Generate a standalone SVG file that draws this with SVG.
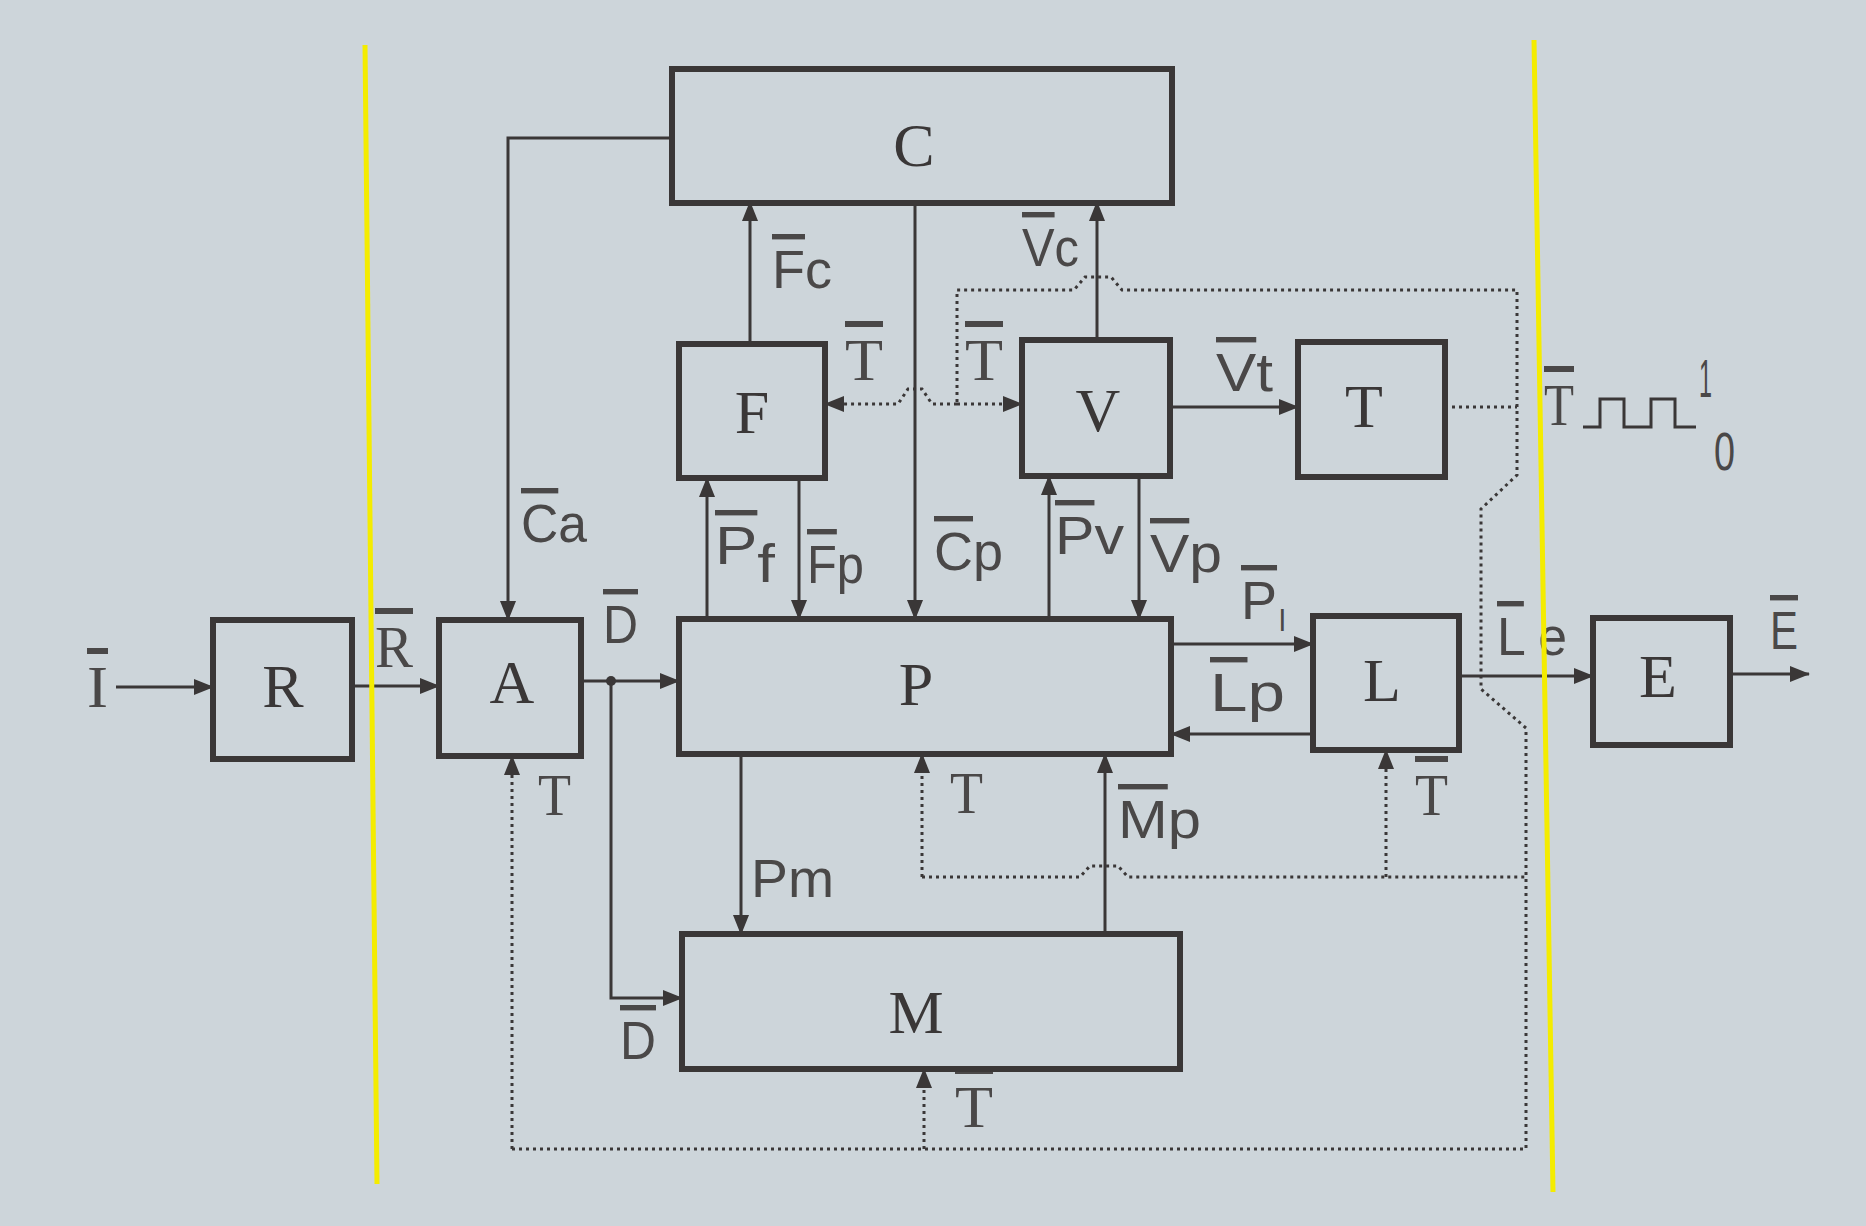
<svg xmlns="http://www.w3.org/2000/svg" width="1866" height="1226" viewBox="0 0 1866 1226">
<defs>
<marker id="ah" markerUnits="userSpaceOnUse" markerWidth="20" markerHeight="16" refX="19" refY="8" orient="auto">
<path d="M0,0 L20,8 L0,16 z" fill="#3a3737"/>
</marker>
<style>
.box{fill:none;stroke:#3a3737;stroke-width:6}
.bl{font-family:"Liberation Serif",serif;font-size:62px;fill:#3a3737;text-anchor:middle}
.ln{fill:none;stroke:#3a3737;stroke-width:3}
.dt{fill:none;stroke:#3a3737;stroke-width:3;stroke-dasharray:3 4}
.lb{font-family:"Liberation Sans",sans-serif;font-size:54px;fill:#4a4848}
.tl{font-family:"Liberation Serif",serif;font-size:60px;fill:#4a4848}
.ov{text-decoration:overline;text-decoration-thickness:3px}
.yl{stroke:#f4ec00;stroke-width:5;fill:none}
</style>
</defs>
<rect width="1866" height="1226" fill="#cdd5da"/>

<g id="connectors">
<path class="ln" d="M116,687 H213" marker-end="url(#ah)"/>
<path class="ln" d="M352,686 H439" marker-end="url(#ah)"/>
<path class="ln" d="M581,681 H679" marker-end="url(#ah)"/>
<circle cx="611" cy="681" r="5" fill="#3a3737"/>
<path class="ln" d="M611,681 V998 H682" marker-end="url(#ah)"/>
<path class="ln" d="M672,138 H508 V620" marker-end="url(#ah)"/>
<path class="ln" d="M750,344 V202" marker-end="url(#ah)"/>
<path class="ln" d="M1097,340 V202" marker-end="url(#ah)"/>
<path class="ln" d="M915,202 V619" marker-end="url(#ah)"/>
<path class="ln" d="M707,619 V478" marker-end="url(#ah)"/>
<path class="ln" d="M799,478 V619" marker-end="url(#ah)"/>
<path class="ln" d="M1049,619 V476" marker-end="url(#ah)"/>
<path class="ln" d="M1139,476 V619" marker-end="url(#ah)"/>
<path class="ln" d="M1170,407 H1298" marker-end="url(#ah)"/>
<path class="ln" d="M1171,644 H1313" marker-end="url(#ah)"/>
<path class="ln" d="M1313,734 H1171" marker-end="url(#ah)"/>
<path class="ln" d="M1459,676 H1593" marker-end="url(#ah)"/>
<path class="ln" d="M1730,674 H1809" marker-end="url(#ah)"/>
<path class="ln" d="M741,754 V934" marker-end="url(#ah)"/>
<path class="ln" d="M1105,934 V754" marker-end="url(#ah)"/>

<path class="dt" d="M512,1149 V756" marker-end="url(#ah)"/>
<path class="dt" d="M512,1149 H1526 V728 L1481,689 V509 L1517,475 V290 H1122 L1111,277 H1085 L1074,290 H957 V404"/>
<path class="dt" d="M1445,407 H1517"/>
<path class="dt" d="M922,877 H1080 L1090,866 H1118 L1128,877 H1526"/>
<path class="dt" d="M922,877 V754" marker-end="url(#ah)"/>
<path class="dt" d="M1386,877 V750" marker-end="url(#ah)"/>
<path class="dt" d="M924,1149 V1069" marker-end="url(#ah)"/>
<path class="dt" d="M957,404 H932 L922,389 H908 L898,404 H825" marker-end="url(#ah)"/>
<path class="dt" d="M957,404 H1022" marker-end="url(#ah)"/>
<path class="ln" d="M1583,427 H1600 V399 H1624 V427 H1651 V399 H1675 V427 H1696" stroke-width="2.5"/>
</g>

<g id="labels">
<text class="tl" x="87" y="707" textLength="21" lengthAdjust="spacingAndGlyphs"><tspan class="ov">I</tspan></text>
<text class="tl" x="375" y="667" font-size="58" textLength="38" lengthAdjust="spacingAndGlyphs"><tspan class="ov">R</tspan></text>
<text class="lb" x="603" y="643" font-size="49" textLength="35" lengthAdjust="spacingAndGlyphs"><tspan class="ov">D</tspan></text>
<text class="lb" x="620" y="1059" font-size="49" textLength="36" lengthAdjust="spacingAndGlyphs"><tspan class="ov">D</tspan></text>
<text class="lb" x="521" y="542" font-size="58" textLength="66" lengthAdjust="spacingAndGlyphs"><tspan class="ov">C</tspan>a</text>
<text class="lb" x="772" y="288" font-size="50"><tspan class="ov">F</tspan>c</text>
<text class="lb" x="1022" y="266" font-size="50" textLength="57" lengthAdjust="spacingAndGlyphs"><tspan class="ov">V</tspan>c</text>
<text class="lb" x="715" y="564" textLength="60" lengthAdjust="spacingAndGlyphs"><tspan class="ov">P</tspan><tspan dy="18">f</tspan></text>
<text class="lb" x="807" y="583" textLength="57" lengthAdjust="spacingAndGlyphs"><tspan class="ov">F</tspan>p</text>
<text class="lb" x="934" y="570" font-size="50"><tspan class="ov">C</tspan>p</text>
<text class="lb" x="1055" y="554" textLength="69" lengthAdjust="spacingAndGlyphs"><tspan class="ov">P</tspan>v</text>
<text class="lb" x="1150" y="572" textLength="72" lengthAdjust="spacingAndGlyphs"><tspan class="ov">V</tspan>p</text>
<text class="lb" x="1216" y="391" font-size="50" textLength="57" lengthAdjust="spacingAndGlyphs"><tspan class="ov">V</tspan>t</text>
<text class="lb" x="1241" y="619" font-size="46"><tspan class="ov">P</tspan><tspan dx="2" dy="12" font-size="30">l</tspan></text>
<text class="lb" x="1210" y="711" textLength="75" lengthAdjust="spacingAndGlyphs"><tspan class="ov">L</tspan>p</text>
<text class="lb" x="1497" y="655" textLength="70" lengthAdjust="spacingAndGlyphs"><tspan class="ov">L</tspan> e</text>
<text class="lb" x="1770" y="649" font-size="52" textLength="28" lengthAdjust="spacingAndGlyphs"><tspan class="ov">E</tspan></text>
<text class="lb" x="1118" y="838" textLength="83" lengthAdjust="spacingAndGlyphs"><tspan class="ov">M</tspan>p</text>
<text class="lb" x="751" y="897" font-size="56" textLength="83" lengthAdjust="spacingAndGlyphs">Pm</text>
<text class="tl" x="538" y="815" textLength="33" lengthAdjust="spacingAndGlyphs">T</text>
<text class="tl" x="950" y="813" textLength="33" lengthAdjust="spacingAndGlyphs">T</text>
<text class="tl" x="955" y="1127" textLength="38" lengthAdjust="spacingAndGlyphs"><tspan class="ov">T</tspan></text>
<text class="tl" x="1415" y="815" textLength="33" lengthAdjust="spacingAndGlyphs"><tspan class="ov">T</tspan></text>
<text class="tl" x="845" y="380" textLength="38" lengthAdjust="spacingAndGlyphs"><tspan class="ov">T</tspan></text>
<text class="tl" x="965" y="380" textLength="38" lengthAdjust="spacingAndGlyphs"><tspan class="ov">T</tspan></text>
<text class="tl" x="1544" y="425" textLength="30" lengthAdjust="spacingAndGlyphs"><tspan class="ov">T</tspan></text>
<text class="lb" x="1699" y="397" font-size="46" textLength="13" lengthAdjust="spacingAndGlyphs">1</text>
<text class="lb" x="1714" y="470" font-size="46" textLength="21" lengthAdjust="spacingAndGlyphs">0</text>
</g>

<g id="node-C"><rect class="box" x="672" y="69" width="500" height="134"/><text class="bl" x="914" y="166">C</text></g>
<g id="node-F"><rect class="box" x="679" y="344" width="146" height="134"/><text class="bl" x="752" y="433">F</text></g>
<g id="node-V"><rect class="box" x="1022" y="340" width="148" height="136"/><text class="bl" x="1098" y="431">V</text></g>
<g id="node-T"><rect class="box" x="1298" y="342" width="147" height="135"/><text class="bl" x="1364" y="427">T</text></g>
<g id="node-R"><rect class="box" x="213" y="620" width="139" height="139"/><text class="bl" x="283" y="707">R</text></g>
<g id="node-A"><rect class="box" x="439" y="620" width="142" height="136"/><text class="bl" x="512" y="703">A</text></g>
<g id="node-P"><rect class="box" x="679" y="619" width="492" height="135"/><text class="bl" x="916" y="705">P</text></g>
<g id="node-M"><rect class="box" x="682" y="934" width="498" height="135"/><text class="bl" x="916" y="1033">M</text></g>
<g id="node-L"><rect class="box" x="1313" y="616" width="146" height="134"/><text class="bl" x="1382" y="701">L</text></g>
<g id="node-E"><rect class="box" x="1593" y="618" width="137" height="127"/><text class="bl" x="1658" y="697">E</text></g>

<g id="yellow-lines">
<line class="yl" x1="365" y1="45" x2="377" y2="1184"/>
<line class="yl" x1="1534" y1="40" x2="1553" y2="1192"/>
</g>
</svg>
